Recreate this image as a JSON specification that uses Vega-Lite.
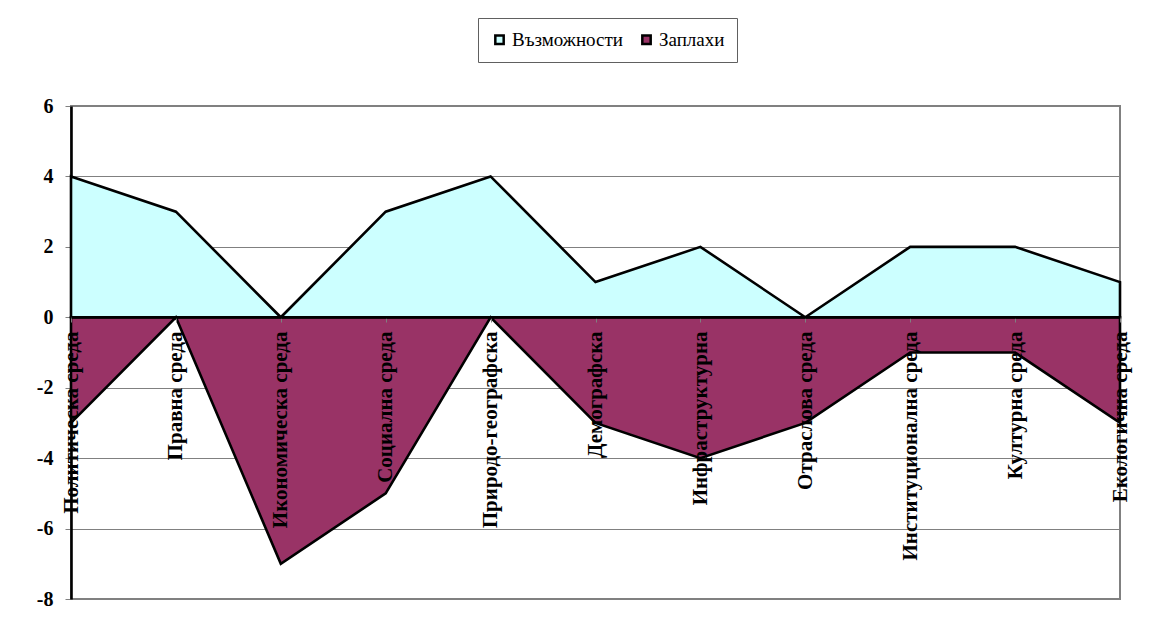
{
  "$schema": "https://vega.github.io/schema/vega-lite/v6.json",
  "width": 1049,
  "height": 493,
  "autosize": {"type": "none"},
  "padding": {"left": 71, "top": 106, "right": 41, "bottom": 33},
  "background": "white",
  "config": {
    "view": {"stroke": "#808080", "strokeWidth": 2},
    "font": "Liberation Serif"
  },
  "data": {
    "values": [
      {"category": "Политическа среда", "series": "Възможности", "value": 4},
      {"category": "Правна среда", "series": "Възможности", "value": 3},
      {"category": "Икономическа среда", "series": "Възможности", "value": 0},
      {"category": "Социална среда", "series": "Възможности", "value": 3},
      {"category": "Природо-географска", "series": "Възможности", "value": 4},
      {"category": "Демографска", "series": "Възможности", "value": 1},
      {"category": "Инфраструктурна", "series": "Възможности", "value": 2},
      {"category": "Отраслова среда", "series": "Възможности", "value": 0},
      {"category": "Институционална среда", "series": "Възможности", "value": 2},
      {"category": "Културна среда", "series": "Възможности", "value": 2},
      {"category": "Екологична среда", "series": "Възможности", "value": 1},
      {"category": "Политическа среда", "series": "Заплахи", "value": -3},
      {"category": "Правна среда", "series": "Заплахи", "value": 0},
      {"category": "Икономическа среда", "series": "Заплахи", "value": -7},
      {"category": "Социална среда", "series": "Заплахи", "value": -5},
      {"category": "Природо-географска", "series": "Заплахи", "value": 0},
      {"category": "Демографска", "series": "Заплахи", "value": -3},
      {"category": "Инфраструктурна", "series": "Заплахи", "value": -4},
      {"category": "Отраслова среда", "series": "Заплахи", "value": -3},
      {"category": "Институционална среда", "series": "Заплахи", "value": -1},
      {"category": "Културна среда", "series": "Заплахи", "value": -1},
      {"category": "Екологична среда", "series": "Заплахи", "value": -3}
    ]
  },
  "mark": {"type": "area", "stroke": "black", "strokeWidth": 2.6, "strokeJoin": "miter", "opacity": 1, "fillOpacity": 1},
  "encoding": {
    "x": {
      "field": "category",
      "type": "nominal",
      "sort": null,
      "scale": {"type": "point", "padding": 0},
      "axis": {
        "title": null,
        "offset": -282,
        "zindex": 1,
        "labelAngle": -90,
        "labelFont": "Liberation Serif",
        "labelFontSize": 21,
        "labelFontWeight": "bold",
        "labelColor": "black",
        "labelPadding": 9,
        "labelLimit": 400,
        "labelOverlap": false,
        "tickColor": "#808080",
        "tickSize": 5,
        "domainColor": "black",
        "domainWidth": 2.6,
        "grid": false
      }
    },
    "y": {
      "field": "value",
      "type": "quantitative",
      "stack": null,
      "scale": {"domain": [-8, 6], "nice": false},
      "axis": {
        "title": null,
        "values": [-8, -6, -4, -2, 0, 2, 4, 6],
        "labelExpr": "replace(datum.label, '\u2212', '-')",
        "labelFont": "Liberation Serif",
        "labelFontSize": 20,
        "labelFontWeight": "bold",
        "labelColor": "black",
        "labelPadding": 12,
        "tickColor": "#808080",
        "tickSize": 6,
        "domainColor": "black",
        "domainWidth": 2.6,
        "grid": true,
        "gridColor": "#808080",
        "gridWidth": 1
      }
    },
    "color": {
      "field": "series",
      "type": "nominal",
      "sort": ["Възможности", "Заплахи"],
      "scale": {"domain": ["Възможности", "Заплахи"], "range": ["#CCFFFF", "#993366"]},
      "legend": {
        "title": null,
        "orient": "none",
        "direction": "horizontal",
        "legendX": 407,
        "legendY": -88,
        "padding": 12,
        "strokeColor": "#606060",
        "fillColor": "white",
        "symbolType": "square",
        "symbolSize": 70,
        "symbolStrokeColor": "black",
        "symbolStrokeWidth": 2.5,
        "symbolOpacity": 1,
        "labelFont": "Liberation Serif",
        "labelFontSize": 19,
        "labelColor": "black",
        "labelOffset": 3,
        "columnPadding": 14
      }
    }
  }
}
